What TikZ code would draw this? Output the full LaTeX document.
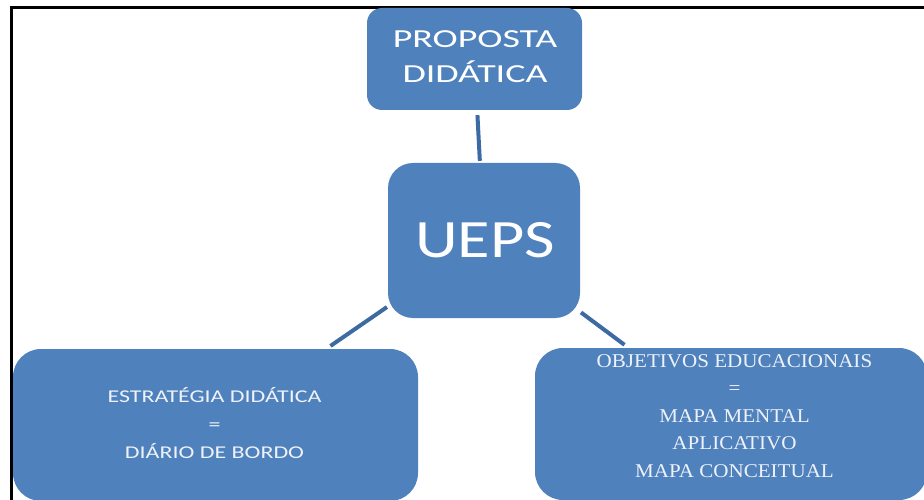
\documentclass[tikz,border=0pt]{standalone}
\usepackage{fontspec}
\setmainfont{Carlito}
\newfontfamily\serifb{Liberation Serif}
\definecolor{boxblue}{HTML}{4F81BD}
\definecolor{lineblue}{HTML}{3C6AA3}
\definecolor{softwhite}{HTML}{EEF2F8}
\begin{document}
\begin{tikzpicture}[x=1pt,y=-1pt,
  box/.style={fill=boxblue, draw=none, rounded corners=#1, inner sep=0pt},
  box/.default=15pt,
  link/.style={draw=lineblue, line width=4pt},
  txt/.style={text=white, align=center, inner sep=0pt}]
\useasboundingbox (0,0) rectangle (924,500);
\clip (0,0) rectangle (924,500);
% frame
\draw[line width=3pt] (11.5,500) -- (11.5,7.5) -- (930,7.5);
% boxes
\node[box=15pt, minimum width=215pt, minimum height=102pt] (prop) at (474.5,59) {};
\node[box=25pt, minimum width=192pt, minimum height=155pt] (ueps) at (484,240.5) {};
\node[box=28pt, minimum width=405pt, minimum height=152pt] (left) at (215.5,425) {};
\node[box=28pt, minimum width=392pt, minimum height=152pt] (right) at (731,424) {};
% texts
\node[txt, font=\addfontfeatures{FakeStretch=1.46}\fontsize{26}{35}\selectfont, anchor=base] (proptxt) at (475,83) {PROPOSTA\\DIDÁTICA};
\node[txt, font=\addfontfeatures{FakeStretch=1.23}\fontsize{54}{60}\selectfont, anchor=base] (uepstxt) at (485,257) {UEPS};
\node[txt, text=softwhite, font=\addfontfeatures{FakeStretch=1.33}\fontsize{18}{28}\selectfont, anchor=base] (lefttxt) at (214.5,458) {ESTRATÉGIA DIDÁTICA\\=\\DIÁRIO DE BORDO};
\node[txt, text=softwhite, font=\serifb\addfontfeatures{FakeStretch=1.08}\fontsize{19.5}{27.5}\selectfont, anchor=base] (righttxt) at (734.5,477) {OBJETIVOS EDUCACIONAIS\\=\\MAPA MENTAL\\APLICATIVO\\MAPA CONCEITUAL};
% connectors
\draw[link, shorten <=5pt, shorten >=2pt] (prop) -- (ueps);
\draw[link, shorten <=1pt, shorten >=5pt] (ueps) -- (left);
\draw[link, shorten <=1pt, shorten >=5pt] (ueps) -- (right);
\end{tikzpicture}
\end{document}
